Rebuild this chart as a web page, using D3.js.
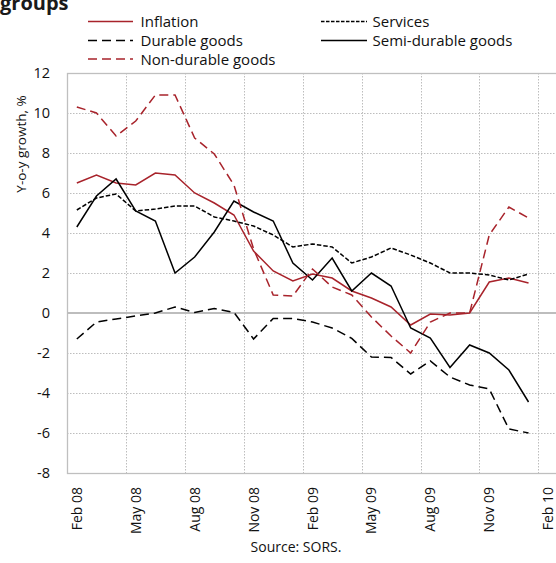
<!DOCTYPE html>
<html>
<head>
<meta charset="utf-8">
<script src="https://cdn.jsdelivr.net/npm/d3@7"></script>
<style>
  html, body { margin: 0; padding: 0; background: #fff; }
  svg { display: block; font-family: "Open Sans", sans-serif; }
</style>
</head>
<body>
<svg id="chart" width="556" height="563"></svg>
<script>
// Monthly categories, Feb 2008 – Feb 2010
const months = [
  "Feb 08","Mar 08","Apr 08","May 08","Jun 08","Jul 08","Aug 08","Sep 08","Oct 08","Nov 08","Dec 08","Jan 09",
  "Feb 09","Mar 09","Apr 09","May 09","Jun 09","Jul 09","Aug 09","Sep 09","Oct 09","Nov 09","Dec 09","Jan 10",
  "Feb 10"
];

// Y-o-y growth, % (Feb 08 – Jan 10)
const inflation = [6.5, 6.9, 6.5, 6.4, 7.0, 6.9, 6.0, 5.5, 4.9, 3.1, 2.1, 1.6,
                   1.95, 1.75, 1.1, 0.75, 0.3, -0.6, -0.05, -0.1, 0.0, 1.55, 1.75, 1.5];
const services = [5.15, 5.75, 5.95, 5.1, 5.2, 5.35, 5.35, 4.8, 4.6, 4.35, 3.9, 3.3,
                  3.45, 3.3, 2.5, 2.8, 3.25, 2.9, 2.5, 2.0, 2.0, 1.9, 1.65, 1.95];
const durable = [-1.3, -0.45, -0.3, -0.15, 0.0, 0.3, 0.03, 0.23, 0.03, -1.3, -0.27, -0.27,
                 -0.45, -0.75, -1.27, -2.2, -2.22, -3.05, -2.4, -3.2, -3.6, -3.8, -5.8, -6.0];
const semiDurable = [4.3, 5.85, 6.7, 5.1, 4.6, 2.0, 2.8, 4.05, 5.6, 5.05, 4.6, 2.5,
                     1.65, 2.75, 1.1, 2.0, 1.35, -0.75, -1.25, -2.72, -1.6, -2.0, -2.85, -4.45];
const nonDurable = [10.3, 10.0, 8.85, 9.6, 10.9, 10.9, 8.75, 7.95, 6.4, 3.2, 0.9, 0.85,
                    2.2, 1.3, 0.9, -0.2, -1.15, -2.0, -0.45, 0.0, 0.0, 3.9, 5.3, 4.75];

const yTicks = [-8, -6, -4, -2, 0, 2, 4, 6, 8, 10, 12];

const RED = "#a8232b";
const series = [
  { name: "Inflation",          values: inflation,   color: RED,    dash: null,    col: 0, row: 0 },
  { name: "Services",           values: services,    color: "#000", dash: "4.5,2", col: 1, row: 0 },
  { name: "Durable goods",      values: durable,     color: "#000", dash: "9,5",   col: 0, row: 1 },
  { name: "Semi-durable goods", values: semiDurable, color: "#000", dash: null,    col: 1, row: 1 },
  { name: "Non-durable goods",  values: nonDurable,  color: RED,    dash: "9,5",   col: 0, row: 2 }
];

const svg = d3.select("#chart");
const plot = { left: 67, top: 73, bottom: 473, band: 19.64 };
plot.right = plot.left + plot.band * months.length;

const x = d3.scaleBand().domain(months).range([plot.left, plot.right]).padding(0);
const y = d3.scaleLinear().domain([-8, 12]).range([plot.bottom, plot.top]);
const cx = m => x(m) + x.bandwidth() / 2;

// Title (partially clipped at the top edge)
svg.append("text")
  .attr("x", 0).attr("y", 10)
  .attr("font-size", 20).attr("font-weight", "bold")
  .attr("fill", "#1a1a1a")
  .text("groups");

// Grid
const grid = svg.append("g").attr("stroke", "#bdbdbd").attr("stroke-width", 1).attr("stroke-dasharray", "1.5,1.5");
yTicks.filter(v => v !== 0 && v !== -8 && v !== 12).forEach(v => {
  grid.append("line")
    .attr("x1", plot.left).attr("x2", plot.right)
    .attr("y1", y(v) + 0.5).attr("y2", y(v) + 0.5);
});
months.forEach((m, i) => {
  if (i % 3 === 0 && i > 0) {
    grid.append("line")
      .attr("x1", Math.round(x(m)) + 0.5).attr("x2", Math.round(x(m)) + 0.5)
      .attr("y1", plot.top).attr("y2", plot.bottom);
  }
});

// Plot frame
svg.append("rect")
  .attr("x", plot.left + 0.5).attr("y", plot.top + 0.5)
  .attr("width", plot.right - plot.left).attr("height", plot.bottom - plot.top)
  .attr("fill", "none").attr("stroke", "#bfbfbf").attr("stroke-width", 1.3);

// Zero line
svg.append("line")
  .attr("x1", plot.left).attr("x2", plot.right)
  .attr("y1", y(0)).attr("y2", y(0))
  .attr("stroke", "#bdbdbd").attr("stroke-width", 2.2);

// Y tick labels
svg.append("g").selectAll("text").data(yTicks).join("text")
  .attr("x", 50).attr("y", d => y(d)).attr("dy", "0.36em")
  .attr("text-anchor", "end").attr("font-size", 14.5).attr("fill", "#111")
  .text(d => d);

// Y axis title
svg.append("text")
  .attr("transform", "translate(26,144) rotate(-90)")
  .attr("text-anchor", "middle").attr("font-size", 13.5).attr("fill", "#111")
  .text("Y-o-y growth, %");

// X tick labels (every third month)
svg.append("g").selectAll("text").data(months.filter((m, i) => i % 3 === 0)).join("text")
  .attr("transform", d => `translate(${cx(d)},487) rotate(-90)`)
  .attr("dy", "0.36em")
  .attr("text-anchor", "end").attr("font-size", 14).attr("fill", "#111")
  .text(d => d);

// Series lines
const line = d3.line()
  .x((d, i) => cx(months[i]))
  .y(d => y(d));

svg.append("g").selectAll("path").data(series).join("path")
  .attr("d", s => line(s.values))
  .attr("fill", "none")
  .attr("stroke", s => s.color)
  .attr("stroke-width", 1.5)
  .attr("stroke-dasharray", s => s.dash)
  .attr("stroke-linejoin", "miter");

// Legend
const legCols = [{ x0: 88, x1: 133, tx: 140.5 }, { x0: 321, x1: 367, tx: 372.5 }];
const legRows = [27, 46, 64.5];
const leg = svg.append("g");
series.forEach(s => {
  const c = legCols[s.col], by = legRows[s.row];
  leg.append("line")
    .attr("x1", c.x0).attr("x2", c.x1)
    .attr("y1", by - 5.5).attr("y2", by - 5.5)
    .attr("stroke", s.color).attr("stroke-width", 1.5)
    .attr("stroke-dasharray", s.dash === "4.5,2" ? "3.5,1.5" : s.dash);
  leg.append("text")
    .attr("x", c.tx).attr("y", by)
    .attr("font-size", 15).attr("fill", "#111")
    .text(s.name);
});

// Source note
svg.append("text")
  .attr("x", 296).attr("y", 552)
  .attr("text-anchor", "middle").attr("font-size", 14).attr("fill", "#111")
  .text("Source: SORS.");
</script>
</body>
</html>
